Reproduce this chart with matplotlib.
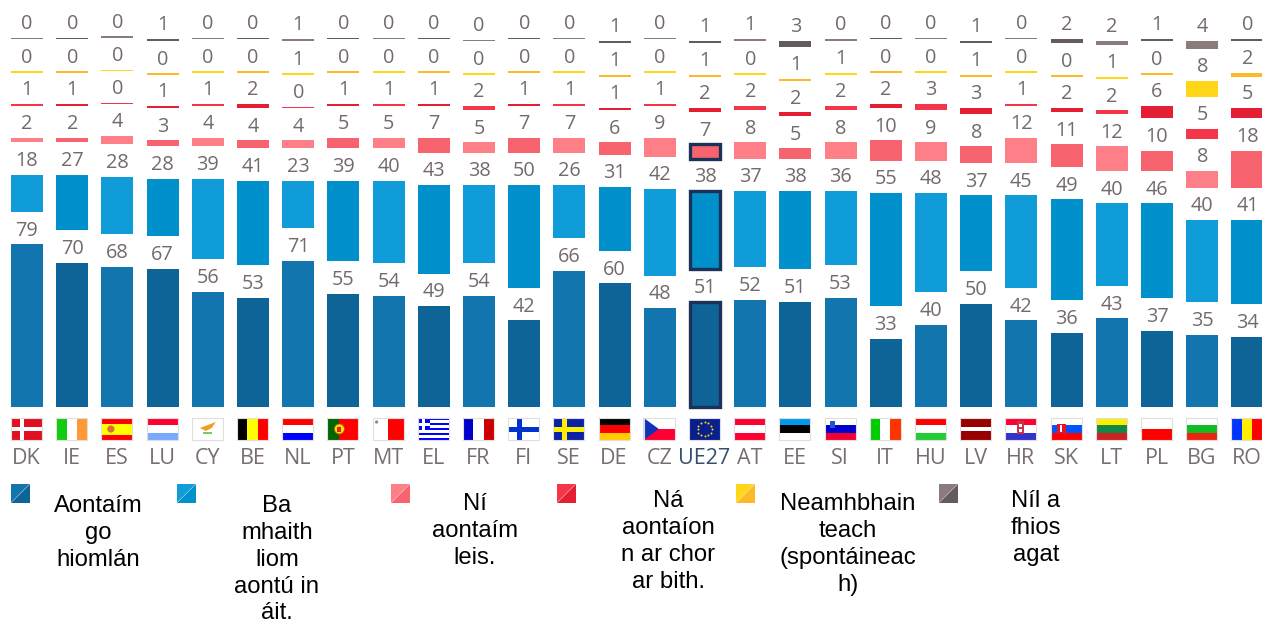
import matplotlib
matplotlib.use("Agg")
import matplotlib.pyplot as plt
from matplotlib.patches import Rectangle, Polygon, Circle
import numpy as np

countries = ["DK","IE","ES","LU","CY","BE","NL","PT","MT","EL","FR","FI","SE","DE","CZ","UE27","AT","EE","SI","IT","HU","LV","HR","SK","LT","PL","BG","RO"]
total_agree = [79,70,68,67,56,53,71,55,54,49,54,42,66,60,48,51,52,51,53,33,40,50,42,36,43,37,35,34]
tend_agree = [18,27,28,28,39,41,23,39,40,43,38,50,26,31,42,38,37,38,36,55,48,37,45,49,40,46,40,41]
tend_disagree = [2,2,4,3,4,4,4,5,5,7,5,7,7,6,9,7,8,5,8,10,9,8,12,11,12,10,8,18]
total_disagree = [1,1,0,1,1,2,0,1,1,1,2,1,1,1,1,2,2,2,2,2,3,3,1,2,2,6,5,5]
spontaneous = [0,0,0,0,0,0,1,0,0,0,0,0,0,1,0,1,0,1,1,0,0,1,0,0,1,0,8,2]
dont_know = [0,0,0,1,0,0,1,0,0,0,0,0,0,1,0,1,1,3,0,0,0,1,0,2,2,1,4,0]

series = [total_agree, tend_agree, tend_disagree, total_disagree, spontaneous, dont_know]
light = ["#1275ae","#109cd8","#ff7f88","#f5364a","#ffd618","#8b7b7c"]
dark = ["#0f6497","#0090cb","#f7646f","#e41f33","#fdb928","#645a60"]

legend_labels = ["Aontaím\ngo\nhiomlán","Ba\nmhaith\nliom\naontú in\náit.","Ní\naontaím\nleis.","Ná\naontaíon\nn ar chor\nar bith.","Neamhbhain\nteach\n(spontáineac\nh)","Níl a\nfhios\nagat"]
legend_box_x = [11,177,391,557,736,939]
legend_text_x = [98,277,475,668,848,1036]
legend_text_y = [495,495,493,490,493,490]

GAPS = [15.8,15.7,15.55,15.25,15.55]
GREY = "#746a6e"
NAVY = "#1b3157"

fig = plt.figure(figsize=(12.62,6.23),dpi=100)
ax = fig.add_axes([0,0,1,1])
px_x = 45.2
px_y = 2.06
ax.set_xlim(-27/px_x,(1262-27)/px_x)
ax.set_ylim(-(623-407)/px_y,407/px_y)
ax.axis("off")

# overlay in pixels for flags and legend
ov = fig.add_axes([0,0,1,1])
ov.set_xlim(0,1262)
ov.set_ylim(623,0)
ov.axis("off")
ov.patch.set_alpha(0)

x = np.arange(len(countries))
bottom = np.zeros(len(countries))
for s,vals in enumerate(series):
    vals = np.array(vals,dtype=float)
    h = np.maximum(vals,0.7)
    cols = [light[s] if i%2==0 else dark[s] for i in x]
    ax.bar(x,h,0.71,bottom=bottom,color=cols,linewidth=0)
    for i in x:
        txt = str(int(vals[i]))
        ax.text(i,bottom[i]+h[i]+1.8,txt,ha="center",va="bottom",fontsize=14.3,color=GREY,family="Open Sans")
        if countries[i]=="UE27" and s<3:
            ax.bar(i,h[i],0.68,bottom=bottom[i],color="none",edgecolor=NAVY,linewidth=2.4)
    if s<5:
        bottom = bottom+h+GAPS[s]

def rect(x0,y0,w,h,c):
    ov.add_patch(Rectangle((x0,y0),w,h,facecolor=c,linewidth=0))

def hstripes(x0,cols):
    n = len(cols)
    for k,c in enumerate(cols):
        rect(x0,418+22*k/n,31,22/n+0.1,c)

def vstripes(x0,cols):
    n = len(cols)
    for k,c in enumerate(cols):
        rect(x0+31*k/n,418,31/n+0.1,22,c)

def flag(code,x0):
    W,R,B = "#ffffff","#ff0000","#0000ff"
    if code=="DK":
        rect(x0,418,31,22,"#e01020"); rect(x0+9,418,4,22,W); rect(x0,427,31,4,W)
    elif code=="IE": vstripes(x0,["#11cc11",W,"#ff9933"])
    elif code=="ES":
        hstripes(x0,[R,"#ffff00","#ffff00",R]); ov.add_patch(Circle((x0+9.5,429),3.6,facecolor="#d9703a",linewidth=0))
    elif code=="LU": hstripes(x0,["#ff0033",W,"#77aaff"])
    elif code=="CY":
        rect(x0,418,31,22,W)
        ov.add_patch(Polygon([(x0+8,428),(x0+16,425),(x0+24,422),(x0+20,428),(x0+14,431)],facecolor="#f0a020",linewidth=0))
        rect(x0+11,432,9,1.5,"#77cc66")
    elif code=="BE": vstripes(x0,["#000000","#ffff00",R])
    elif code=="NL": hstripes(x0,[R,W,B])
    elif code=="PT":
        rect(x0,418,31,22,R); rect(x0,418,12,22,"#006600")
        ov.add_patch(Circle((x0+12,429),5,facecolor="#ffdd00",edgecolor="#aa6600",linewidth=0.5))
        rect(x0+10,427,4,5,"#dd2222")
    elif code=="MT":
        vstripes(x0,[W,R]); ov.add_patch(Circle((x0+4,422),1.6,facecolor="#888888",linewidth=0))
    elif code=="EL":
        hstripes(x0,[B,W,B,W,B,W,B,W,B]); rect(x0,418,12,12,B); rect(x0+4.5,418,3,12,W); rect(x0,422.5,12,3,W)
    elif code=="FR": vstripes(x0,["#0000cc",W,"#cc0000"])
    elif code=="FI":
        rect(x0,418,31,22,W); rect(x0+9,418,5,22,"#0033cc"); rect(x0,426.5,31,5,"#0033cc")
    elif code=="SE":
        rect(x0,418,31,22,"#0a22a8"); rect(x0+9,418,5,22,"#ffee00"); rect(x0,426.5,31,5,"#ffee00")
    elif code=="DE": hstripes(x0,["#000000",R,"#ffcc00"])
    elif code=="CZ":
        hstripes(x0,[W,"#ff0033"]); ov.add_patch(Polygon([(x0,418),(x0+15,429),(x0,440)],facecolor="#1133bb",linewidth=0))
    elif code=="UE27":
        rect(x0,418,31,22,"#0a1f8f")
        t = np.arange(12)*np.pi/6
        ov.scatter(x0+15.5+7*np.cos(t),429+7*np.sin(t),s=2,color="#ffdd00",linewidths=0)
    elif code=="AT": hstripes(x0,["#ff0033",W,"#ff0033"])
    elif code=="EE": hstripes(x0,["#0099ee","#000000",W])
    elif code=="SI":
        hstripes(x0,[W,"#0000cc","#ee0033"]); rect(x0+5,421,5,7,"#2255cc")
    elif code=="IT": vstripes(x0,["#00cc00",W,"#ff3300"])
    elif code=="HU": hstripes(x0,[R,W,"#22cc33"])
    elif code=="LV":
        hstripes(x0,["#990000","#990000",W,"#990000","#990000"])
    elif code=="HR":
        hstripes(x0,["#ff0033",W,"#3333cc"]); rect(x0+12,421,7,13,"#cc3344"); rect(x0+14,424,3,3,W); rect(x0+14,429,3,3,W)
    elif code=="SK":
        hstripes(x0,[W,"#0055ff",R]); rect(x0+6,424,9,10,"#ee1122"); rect(x0+9.5,425,2,7,W)
    elif code=="LT": hstripes(x0,["#ffee00","#118844","#cc2222"])
    elif code=="PL": hstripes(x0,[W,R])
    elif code=="BG": hstripes(x0,[W,"#11bb22","#ee2211"])
    elif code=="RO": vstripes(x0,["#0033ff","#ffee00",R])
    ov.add_patch(Rectangle((x0,418),31,22,facecolor="none",edgecolor="#e3dede",linewidth=0.8))

for i,code in enumerate(countries):
    x0 = 11+px_x*i
    flag(code,x0)
    c = "#35506f" if code=="UE27" else "#786e72"
    ov.text(x0+15.5,458,code,ha="center",va="center",fontsize=15.5,color=c,family="Open Sans")

# legend, two tone squares
for k,bx in enumerate(legend_box_x):
    ov.add_patch(Polygon([(bx,484),(bx+18.5,484),(bx,502.5)],facecolor=light[k],linewidth=0))
    ov.add_patch(Polygon([(bx+18.5,484),(bx+18.5,502.5),(bx,502.5)],facecolor=dark[k],linewidth=0))
    ov.text(legend_text_x[k],legend_text_y[k],legend_labels[k],ha="center",va="top",fontsize=17.2,
            color="#000000",family="Liberation Sans",linespacing=1.286)

fig.savefig("out.png",dpi=100)
